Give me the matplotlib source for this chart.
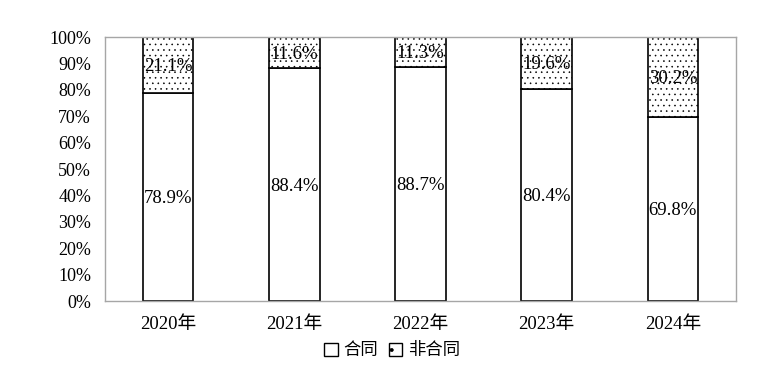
import matplotlib
matplotlib.use("Agg")
import matplotlib.pyplot as plt
from matplotlib.patches import Patch

plt.rcParams['font.family'] = ['Liberation Serif', 'Noto Sans CJK SC']
plt.rcParams['hatch.color'] = '#a8a8a8'
plt.rcParams['hatch.linewidth'] = 0.4

years = ["2020年", "2021年", "2022年", "2023年", "2024年"]
contract = [78.9, 88.4, 88.7, 80.4, 69.8]
non_contract = [21.1, 11.6, 11.3, 19.6, 30.2]
yticks = [0, 10, 20, 30, 40, 50, 60, 70, 80, 90, 100]

fig = plt.figure(figsize=(7.75, 3.65), dpi=100)
ax = fig.add_axes([105 / 775, 1 - 301 / 365, 631 / 775, 264 / 365])

x = range(len(years))
ax.bar(x, contract, width=0.4, color="white", edgecolor="black", lw=1.2)
ax.bar(x, non_contract, width=0.4, bottom=contract, color="white",
       edgecolor="black", lw=1.2, hatch="...")

# value labels centred in each segment
for i in x:
    ax.text(i, contract[i] / 2, f"{contract[i]:.1f}%", ha="center",
            va="center_baseline", fontsize=13.5)
    ax.text(i, contract[i] + non_contract[i] / 2, f"{non_contract[i]:.1f}%",
            ha="center", va="center_baseline", fontsize=13.5)

ax.set_xlim(-0.5, len(years) - 0.5)
ax.set_ylim(0, 100)
ax.set_yticks(yticks)
ax.set_yticklabels([f"{v}%" for v in yticks], fontsize=13)
ax.set_xticks(list(x))
ax.set_xticklabels(years, fontsize=13.5)
ax.tick_params(axis="y", length=0, pad=10)
ax.tick_params(axis="x", length=0, pad=11)
for s in ax.spines.values():
    s.set_color("#a6a6a6")
    s.set_linewidth(1.0)

handles = [Patch(facecolor="white", edgecolor="black", label="合同"),
           Patch(facecolor="white", edgecolor="black", hatch=".", label="非合同")]
fig.legend(handles=handles, loc="center", bbox_to_anchor=(392 / 775, 1 - 351 / 365),
           ncol=2, frameon=False, fontsize=12.5, handlelength=0.8, handleheight=0.8,
           handletextpad=0.3, columnspacing=0.6)

fig.savefig("out.png", dpi=100, facecolor="white")
